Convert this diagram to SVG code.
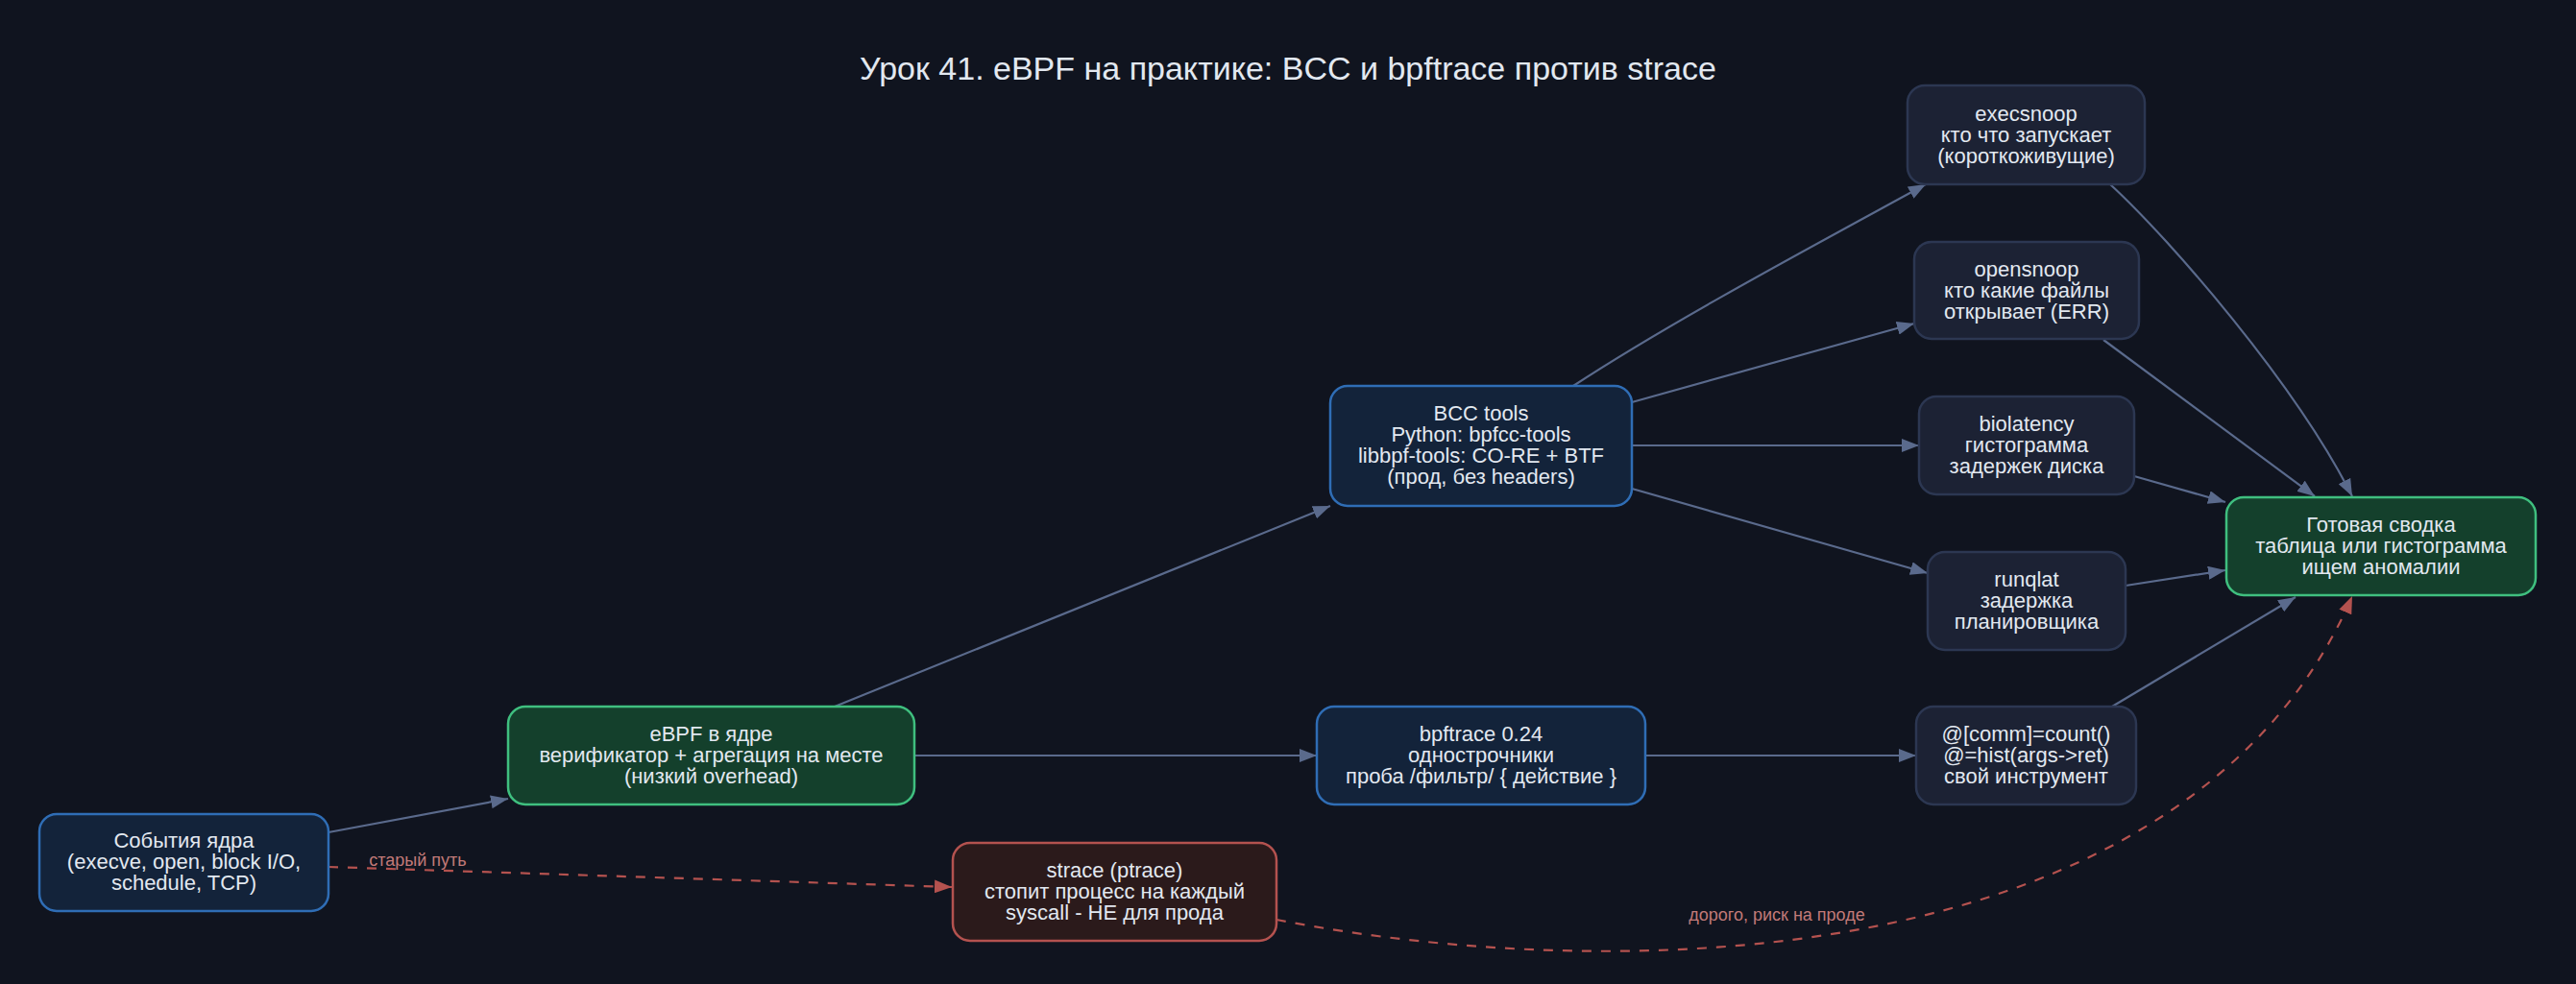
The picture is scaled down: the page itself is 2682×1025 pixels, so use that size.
<svg xmlns="http://www.w3.org/2000/svg" width="2682" height="1025" viewBox="0 0 2682 1025">
<defs>
<style>
.bg{fill:#10141f}
.t{font-family:"Liberation Sans",Arial,sans-serif;font-size:22px;fill:#e2e8f0;text-anchor:middle}
.title{font-family:"Liberation Sans",Arial,sans-serif;font-size:34px;fill:#e2e8f0;text-anchor:middle}
.el{font-family:"Liberation Sans",Arial,sans-serif;font-size:18px;fill:#c27a78;text-anchor:middle}
.blue{fill:#13233a;stroke:#2f6db5;stroke-width:2.5}
.green{fill:#14402c;stroke:#3fbf7f;stroke-width:2.5}
.dark{fill:#1c2234;stroke:#2c3752;stroke-width:2.5}
.red{fill:#2b1a1b;stroke:#b4524f;stroke-width:2.5}
.e{fill:none;stroke:#5a6a8c;stroke-width:2.2}
.ed{fill:none;stroke:#b4524f;stroke-width:2.2;stroke-dasharray:10 10}
</style>
<marker id="ag" viewBox="0 0 18 14" refX="18" refY="7" markerWidth="18" markerHeight="14" markerUnits="userSpaceOnUse" orient="auto"><path d="M0,0 L18,7 L0,14 z" fill="#5a6a8c"/></marker>
<marker id="ar" viewBox="0 0 18 14" refX="18" refY="7" markerWidth="18" markerHeight="14" markerUnits="userSpaceOnUse" orient="auto"><path d="M0,0 L18,7 L0,14 z" fill="#b4524f"/></marker>
</defs>
<rect class="bg" x="0" y="0" width="2682" height="1025"/>
<text class="title" x="1341" y="83">Урок 41. eBPF на практике: BCC и bpftrace против strace</text>

<g id="connectors">
<path class="e" d="M342,867 L529,832" marker-end="url(#ag)"/>
<path class="e" d="M869,736 L1385,527" marker-end="url(#ag)"/>
<path class="e" d="M952,787 L1371,787" marker-end="url(#ag)"/>
<path class="e" d="M1713,787 L1995,787" marker-end="url(#ag)"/>
<path class="e" d="M1638,402 C1740,335 1890,255 2005,192" marker-end="url(#ag)"/>
<path class="e" d="M1699,419 L1993,337" marker-end="url(#ag)"/>
<path class="e" d="M1699,464 L1998,464" marker-end="url(#ag)"/>
<path class="e" d="M1699,509 L2007,597" marker-end="url(#ag)"/>
<path class="e" d="M2197,192 C2260,250 2390,400 2449,517" marker-end="url(#ag)"/>
<path class="e" d="M2190,354 L2410,517" marker-end="url(#ag)"/>
<path class="e" d="M2222,496 L2317,523" marker-end="url(#ag)"/>
<path class="e" d="M2213,610 L2317,594" marker-end="url(#ag)"/>
<path class="e" d="M2199,736 L2390,622" marker-end="url(#ag)"/>
<path class="ed" d="M342,903 L991,924" marker-end="url(#ar)"/>
<path class="ed" d="M1329,958 C1700,1030 2280,1010 2449,621" marker-end="url(#ar)"/>
<text class="el" x="435" y="902">старый путь</text>
<text class="el" x="1850" y="959">дорого, риск на проде</text>
</g>

<g id="events">
<rect class="blue" x="41" y="848" width="301" height="101" rx="18"/>
<text class="t"><tspan x="191.5" y="883">События ядра</tspan><tspan x="191.5" y="905">(execve, open, block I/O,</tspan><tspan x="191.5" y="927">schedule, TCP)</tspan></text>
</g>
<g id="ebpf">
<rect class="green" x="529" y="736" width="423" height="102" rx="18"/>
<text class="t"><tspan x="740.5" y="772">eBPF в ядре</tspan><tspan x="740.5" y="794">верификатор + агрегация на месте</tspan><tspan x="740.5" y="816">(низкий overhead)</tspan></text>
</g>
<g id="strace">
<rect class="red" x="992" y="878" width="337" height="102" rx="18"/>
<text class="t"><tspan x="1160.5" y="914">strace (ptrace)</tspan><tspan x="1160.5" y="936">стопит процесс на каждый</tspan><tspan x="1160.5" y="958">syscall - НЕ для прода</tspan></text>
</g>
<g id="bcc">
<rect class="blue" x="1385" y="402" width="314" height="125" rx="18"/>
<text class="t"><tspan x="1542" y="438">BCC tools</tspan><tspan x="1542" y="460">Python: bpfcc-tools</tspan><tspan x="1542" y="482">libbpf-tools: CO-RE + BTF</tspan><tspan x="1542" y="504">(прод, без headers)</tspan></text>
</g>
<g id="bpftrace">
<rect class="blue" x="1371" y="736" width="342" height="102" rx="18"/>
<text class="t"><tspan x="1542" y="772">bpftrace 0.24</tspan><tspan x="1542" y="794">однострочники</tspan><tspan x="1542" y="816">проба /фильтр/ { действие }</tspan></text>
</g>
<g id="execsnoop">
<rect class="dark" x="1986" y="89" width="247" height="103" rx="18"/>
<text class="t"><tspan x="2109.5" y="126">execsnoop</tspan><tspan x="2109.5" y="148">кто что запускает</tspan><tspan x="2109.5" y="170">(короткоживущие)</tspan></text>
</g>
<g id="opensnoop">
<rect class="dark" x="1993" y="252" width="234" height="101" rx="18"/>
<text class="t"><tspan x="2110" y="288">opensnoop</tspan><tspan x="2110" y="310">кто какие файлы</tspan><tspan x="2110" y="332">открывает (ERR)</tspan></text>
</g>
<g id="biolatency">
<rect class="dark" x="1998" y="413" width="224" height="102" rx="18"/>
<text class="t"><tspan x="2110" y="449">biolatency</tspan><tspan x="2110" y="471">гистограмма</tspan><tspan x="2110" y="493">задержек диска</tspan></text>
</g>
<g id="runqlat">
<rect class="dark" x="2007" y="575" width="206" height="102" rx="18"/>
<text class="t"><tspan x="2110" y="611">runqlat</tspan><tspan x="2110" y="633">задержка</tspan><tspan x="2110" y="655">планировщика</tspan></text>
</g>
<g id="bpfone">
<rect class="dark" x="1995" y="736" width="229" height="102" rx="18"/>
<text class="t"><tspan x="2109.5" y="772">@[comm]=count()</tspan><tspan x="2109.5" y="794">@=hist(args-&gt;ret)</tspan><tspan x="2109.5" y="816">свой инструмент</tspan></text>
</g>
<g id="summary">
<rect class="green" x="2318" y="518" width="322" height="102" rx="18"/>
<text class="t"><tspan x="2479" y="554">Готовая сводка</tspan><tspan x="2479" y="576">таблица или гистограмма</tspan><tspan x="2479" y="598">ищем аномалии</tspan></text>
</g>
</svg>
